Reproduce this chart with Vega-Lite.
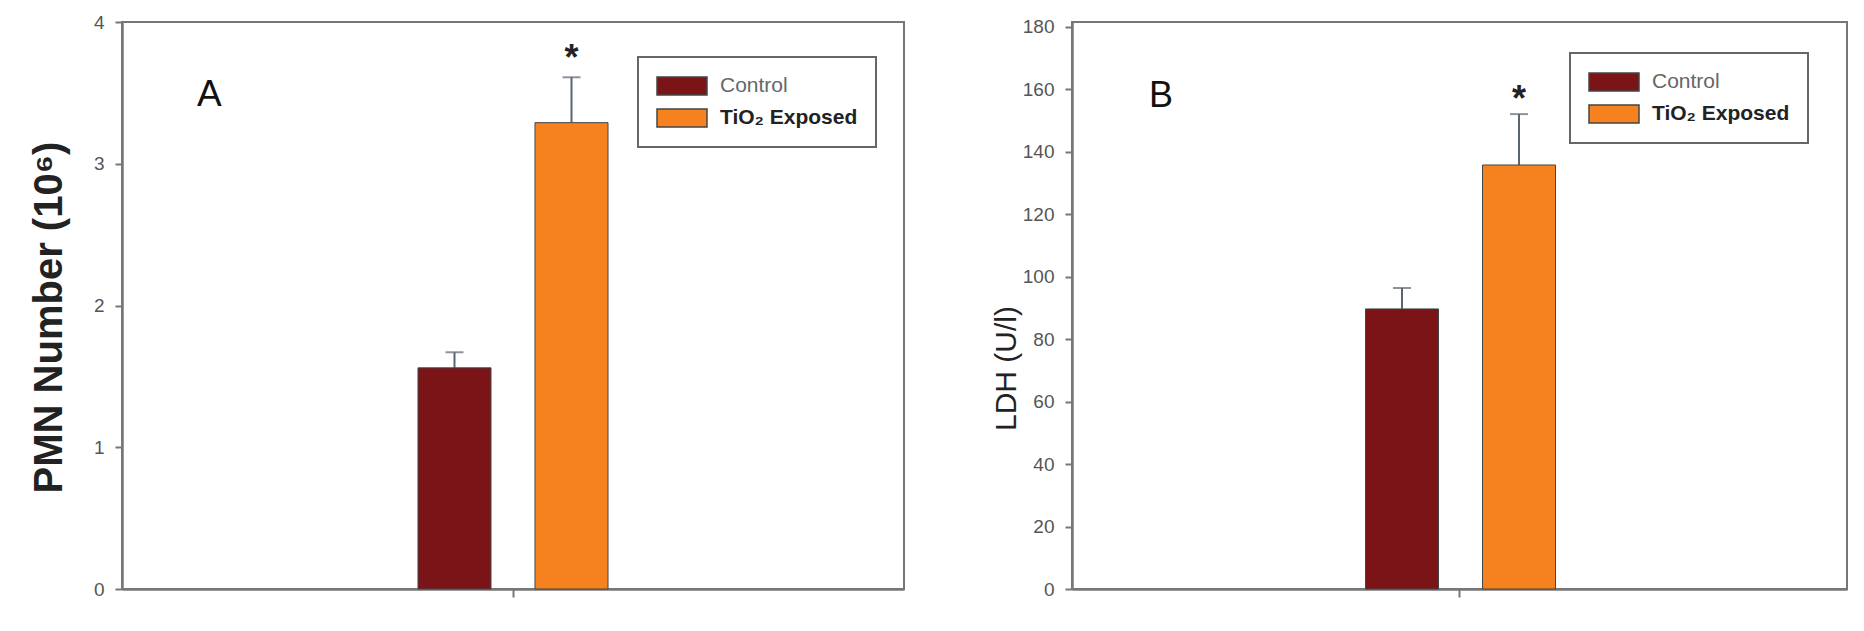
{
  "$schema": "https://vega.github.io/schema/vega-lite/v6.json",
  "background": "white",
  "padding": {"left": 28, "top": 12, "right": 0, "bottom": 0},
  "spacing": 85,
  "resolve": {"legend": {"color": "independent"}},
  "config": {
    "font": "Liberation Sans",
    "view": {"stroke": "#777", "strokeWidth": 2},
    "axis": {
      "grid": false,
      "domainColor": "#777",
      "domainWidth": 2.5,
      "tickColor": "#777",
      "tickWidth": 2,
      "tickSize": 7,
      "labelPadding": 11,
      "labelColor": "#555",
      "labelFontSize": 19,
      "labelFont": "Liberation Sans",
      "titleFont": "Liberation Sans",
      "titleColor": "#222"
    },
    "legend": {
      "title": null,
      "orient": "none",
      "padding": 18,
      "strokeColor": "#666",
      "fillColor": "white",
      "labelFont": "Liberation Sans",
      "labelFontSize": 21,
      "labelOffset": 12,
      "symbolType": "M-1,-0.36L1,-0.36L1,0.36L-1,0.36Z",
      "symbolSize": 2500,
      "symbolStrokeColor": "#444",
      "symbolStrokeWidth": 1.5,
      "clipHeight": 22,
      "rowPadding": 10
    }
  },
  "hconcat": [
    {
      "width": 782,
      "height": 567,
      "title": {"text": "A", "anchor": "start", "frame": "group", "fontSize": 37, "fontWeight": "normal", "color": "#111", "dx": 75, "dy": 101, "offset": 0},
      "data": {"values": [
        {"group": "g", "condition": "Control", "mean": 1.56, "upper": 1.67, "sig": ""},
        {"group": "g", "condition": "TiO₂ Exposed", "mean": 3.29, "upper": 3.61, "sig": "*"}
      ]},
      "encoding": {
        "x": {"field": "group", "type": "nominal", "scale": {"paddingInner": 0.358, "paddingOuter": 1}, "axis": {"labels": false, "title": null, "tickSize": 8}},
        "xOffset": {"field": "condition", "type": "nominal", "scale": {"domain": ["Control", "TiO₂ Exposed"], "paddingInner": 0.376, "paddingOuter": 0}}
      },
      "layer": [
        {
          "mark": {"type": "rule", "color": "#5b6570", "strokeWidth": 2},
          "encoding": {
            "y": {"field": "mean", "type": "quantitative"},
            "y2": {"field": "upper"}
          }
        },
        {
          "mark": {"type": "tick", "color": "#5b6570", "thickness": 2, "size": 18, "orient": "horizontal"},
          "encoding": {"y": {"field": "upper", "type": "quantitative"}}
        },
        {
          "mark": {"type": "bar", "stroke": "#444", "strokeWidth": 1},
          "encoding": {
            "y": {"field": "mean", "type": "quantitative", "scale": {"domain": [0, 4], "nice": false},
              "axis": {"values": [0, 1, 2, 3, 4], "format": "d", "title": "PMN Number (10⁶)", "titleFontSize": 40, "titleFontWeight": "bold", "titleX": -53, "titleY": 295}},
            "color": {"field": "condition", "type": "nominal",
              "scale": {"domain": ["Control", "TiO₂ Exposed"], "range": ["#7b1416", "#f5821f"]},
              "legend": {"legendX": 516, "legendY": 35,
                "encode": {
                  "labels": {"update": {"fontWeight": {"signal": "datum.label == 'Control' ? 'normal' : 'bold'"}, "fill": {"signal": "datum.label == 'Control' ? '#666' : '#222'"}}},
                  "legend": {"update": {"strokeWidth": {"value": 2}}}
                }}}
          }
        },
        {
          "mark": {"type": "text", "fontSize": 36, "fontWeight": "bold", "color": "#222", "baseline": "alphabetic", "dy": -7},
          "encoding": {"y": {"field": "upper", "type": "quantitative"}, "text": {"field": "sig"}}
        }
      ]
    },
    {
      "width": 775,
      "height": 567,
      "title": {"text": "B", "anchor": "start", "frame": "group", "fontSize": 36, "fontWeight": "normal", "color": "#111", "dx": 77, "dy": 97, "offset": 0},
      "data": {"values": [
        {"group": "g", "condition": "Control", "mean": 89.7, "upper": 96.4, "sig": ""},
        {"group": "g", "condition": "TiO₂ Exposed", "mean": 135.8, "upper": 152.1, "sig": "*"}
      ]},
      "encoding": {
        "x": {"field": "group", "type": "nominal", "scale": {"paddingInner": 0.3595, "paddingOuter": 1}, "axis": {"labels": false, "title": null, "tickSize": 8}},
        "xOffset": {"field": "condition", "type": "nominal", "scale": {"domain": ["Control", "TiO₂ Exposed"], "paddingInner": 0.379, "paddingOuter": 0}}
      },
      "layer": [
        {
          "mark": {"type": "rule", "color": "#5b6570", "strokeWidth": 2},
          "encoding": {
            "y": {"field": "mean", "type": "quantitative"},
            "y2": {"field": "upper"}
          }
        },
        {
          "mark": {"type": "tick", "color": "#5b6570", "thickness": 2, "size": 18, "orient": "horizontal"},
          "encoding": {"y": {"field": "upper", "type": "quantitative"}}
        },
        {
          "mark": {"type": "bar", "stroke": "#444", "strokeWidth": 1},
          "encoding": {
            "y": {"field": "mean", "type": "quantitative", "scale": {"domain": [0, 181.6], "nice": false},
              "axis": {"values": [0, 20, 40, 60, 80, 100, 120, 140, 160, 180], "format": "d", "title": "LDH (U/l)", "titleFontSize": 30, "titleFontWeight": "normal", "titleX": -51, "titleY": 346}},
            "color": {"field": "condition", "type": "nominal",
              "scale": {"domain": ["Control", "TiO₂ Exposed"], "range": ["#7b1416", "#f5821f"]},
              "legend": {"legendX": 498, "legendY": 31,
                "encode": {
                  "labels": {"update": {"fontWeight": {"signal": "datum.label == 'Control' ? 'normal' : 'bold'"}, "fill": {"signal": "datum.label == 'Control' ? '#666' : '#222'"}}},
                  "legend": {"update": {"strokeWidth": {"value": 2}}}
                }}}
          }
        },
        {
          "mark": {"type": "text", "fontSize": 36, "fontWeight": "bold", "color": "#222", "baseline": "alphabetic", "dy": -3},
          "encoding": {"y": {"field": "upper", "type": "quantitative"}, "text": {"field": "sig"}}
        }
      ]
    }
  ]
}
